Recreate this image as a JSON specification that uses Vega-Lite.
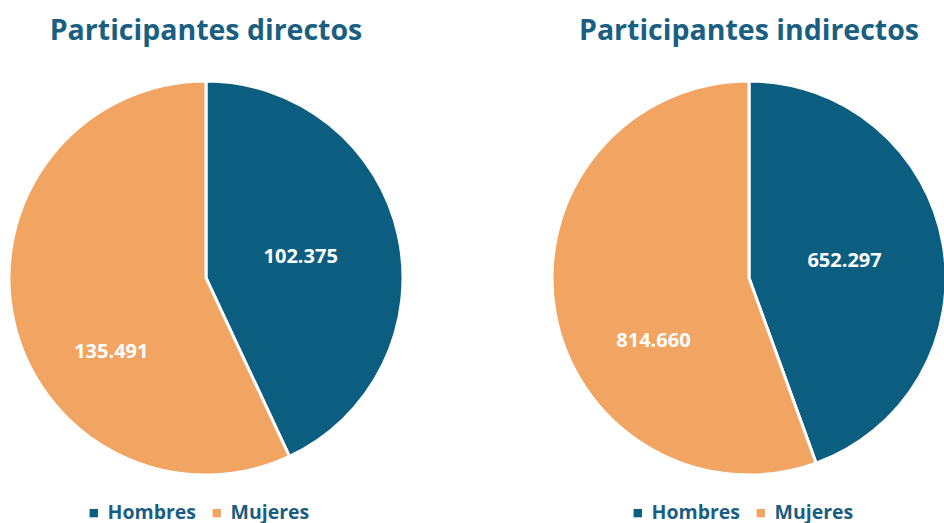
{
  "$schema": "https://vega.github.io/schema/vega-lite/v6.json",
  "padding": {"left": 3, "top": 16, "right": 0, "bottom": 0},
  "background": "white",
  "spacing": 137,
  "data": {"values": [
    {"panel": "directos", "genero": "Hombres", "valor": 102375},
    {"panel": "directos", "genero": "Mujeres", "valor": 135491},
    {"panel": "indirectos", "genero": "Hombres", "valor": 652297},
    {"panel": "indirectos", "genero": "Mujeres", "valor": 814660}
  ]},
  "resolve": {"scale": {"color": "independent", "theta": "independent"}, "legend": {"color": "independent"}},
  "hconcat": [
    {
      "width": 394, "height": 394,
      "title": {"text": "Participantes directos"},
      "transform": [{"filter": "datum.panel === 'directos'"}],
      "encoding": {
        "theta": {"field": "valor", "type": "quantitative", "stack": true},
        "color": {"field": "genero", "type": "nominal",
          "scale": {"domain": ["Hombres", "Mujeres"], "range": ["#0c5e80", "#f2a462"]},
          "legend": {"orient": "none", "legendX": 75, "legendY": 422, "direction": "horizontal", "title": null}},
        "order": {"field": "genero", "sort": "ascending"}
      },
      "layer": [
        {"mark": {"type": "arc", "outerRadius": 197, "stroke": "white", "strokeWidth": 3}},
        {"mark": {"type": "text", "radius": 97, "font": "Open Sans", "fontWeight": "bold", "fontSize": 20},
         "encoding": {"text": {"condition": {"test": "datum.genero === 'Hombres'", "field": "valor", "type": "quantitative", "format": ",d"}, "value": ""}, "color": {"value": "white"}}},
        {"mark": {"type": "text", "radius": 97, "dy": 53, "font": "Open Sans", "fontWeight": "bold", "fontSize": 20},
         "encoding": {"text": {"condition": {"test": "datum.genero === 'Mujeres'", "field": "valor", "type": "quantitative", "format": ",d"}, "value": ""}, "color": {"value": "white"}}}
      ]
    },
    {
      "width": 394, "height": 394,
      "title": {"text": "Participantes indirectos"},
      "transform": [{"filter": "datum.panel === 'indirectos'"}],
      "encoding": {
        "theta": {"field": "valor", "type": "quantitative", "stack": true},
        "color": {"field": "genero", "type": "nominal",
          "scale": {"domain": ["Hombres", "Mujeres"], "range": ["#0c5e80", "#f2a462"]},
          "legend": {"orient": "none", "legendX": 76, "legendY": 422, "direction": "horizontal", "title": null}},
        "order": {"field": "genero", "sort": "ascending"}
      },
      "layer": [
        {"mark": {"type": "arc", "outerRadius": 197, "stroke": "white", "strokeWidth": 3}},
        {"mark": {"type": "text", "radius": 97, "font": "Open Sans", "fontWeight": "bold", "fontSize": 20},
         "encoding": {"text": {"condition": {"test": "datum.genero === 'Hombres'", "field": "valor", "type": "quantitative", "format": ",d"}, "value": ""}, "color": {"value": "white"}}},
        {"mark": {"type": "text", "radius": 97, "dy": 46, "font": "Open Sans", "fontWeight": "bold", "fontSize": 20},
         "encoding": {"text": {"condition": {"test": "datum.genero === 'Mujeres'", "field": "valor", "type": "quantitative", "format": ",d"}, "value": ""}, "color": {"value": "white"}}}
      ]
    }
  ],
  "config": {
    "locale": {"number": {"decimal": ",", "thousands": ".", "grouping": [3], "currency": ["", " €"]}},
    "view": {"stroke": null},
    "title": {"font": "Open Sans", "fontSize": 28.5, "fontWeight": "bold", "color": "#1a5f82", "anchor": "middle", "offset": 30, "baseline": "alphabetic"},
    "legend": {"labelFont": "Open Sans", "labelFontSize": 19.5, "labelFontWeight": "bold", "labelColor": "#1a5f82", "symbolType": "square", "symbolSize": 70, "symbolStrokeWidth": 0, "columnPadding": 10, "labelOffset": 4, "labelLimit": 200}
  }
}
